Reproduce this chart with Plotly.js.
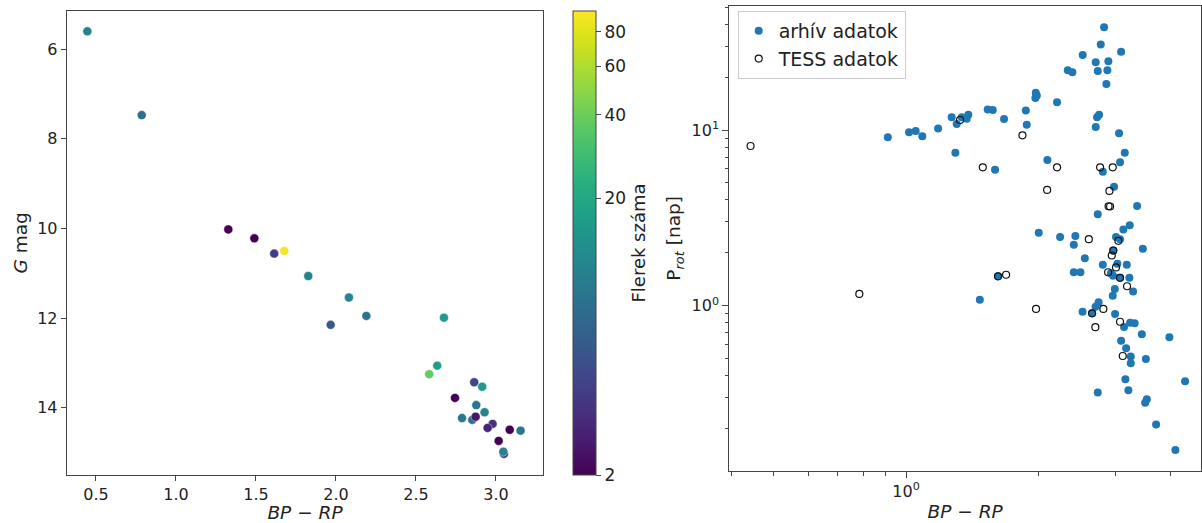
<!DOCTYPE html>
<html><head><meta charset="utf-8">
<script src="https://cdn.plot.ly/plotly-3.0.1.min.js"></script>
<style>html,body{margin:0;padding:0;background:#fff}#c{width:1202px;height:523px}</style>
</head><body><div id="c"></div>
<script>
// Left panel: colour-magnitude diagram
const bpRp = [0.446,0.786,1.327,1.49,1.614,1.677,1.827,2.081,1.967,2.19,2.675,2.633,2.583,2.864,2.914,2.744,2.877,2.929,2.788,2.852,2.873,2.979,2.948,3.086,3.154,3.017,3.05,3.046];
const gMag = [5.60,7.47,10.02,10.22,10.56,10.50,11.06,11.54,12.15,11.95,11.99,13.06,13.25,13.43,13.53,13.78,13.94,14.10,14.23,14.27,14.20,14.36,14.45,14.49,14.51,14.74,15.03,14.98];
const flareCount = [11,8,2,2,4,90,11,11.5,6,8.5,16,18,38,4.5,16,2,9,11,9,8.5,2.5,3.5,3,2,9,2,4,11];
const cbTicks = [2,20,40,60,80];
const leftXTicks = [0.5,1.0,1.5,2.0,2.5,3.0];
const leftYTicks = [6,8,10,12,14];

// Right panel: rotation period vs colour
const archBpRp = [0.909,1.016,1.052,1.089,1.183,1.270,1.304,1.339,1.386,1.374,1.295,1.534,1.575,1.671,1.594,1.873,1.882,1.973,1.984,1.969,2.206,2.097,2.333,2.390,2.523,2.822,2.773,3.085,2.701,2.886,2.730,2.871,2.856,2.749,2.720,2.701,3.052,3.145,3.068,2.803,2.973,3.355,2.730,3.122,3.228,3.004,3.068,3.457,2.004,2.241,2.428,2.408,2.551,2.803,3.178,3.025,2.408,2.493,2.923,2.958,3.068,3.222,1.619,1.472,2.985,2.953,3.285,2.742,2.699,2.650,2.521,2.989,3.234,3.311,3.133,3.439,3.973,3.085,3.167,3.245,3.512,3.245,3.155,4.313,3.205,2.730,3.530,3.499,3.706,4.100,2.958];
const archProt = [9.08,9.70,9.87,9.21,10.2,11.8,10.8,11.8,12.2,11.6,7.43,13.1,13.0,11.55,5.94,12.9,10.7,16.3,15.7,15.2,14.4,6.75,21.9,21.3,26.7,38.4,30.7,27.9,24.3,24.6,21.7,21.9,18.3,12.2,11.8,10.4,9.58,7.43,6.55,5.79,4.76,3.69,3.31,2.71,2.87,2.46,2.39,2.11,2.60,2.46,2.49,2.22,1.86,1.71,1.71,1.73,1.55,1.55,1.53,1.48,1.44,1.44,1.47,1.08,1.245,1.14,1.205,1.045,0.986,0.905,0.923,0.897,0.800,0.794,0.756,0.688,0.661,0.631,0.572,0.514,0.497,0.470,0.381,0.371,0.330,0.321,0.293,0.280,0.211,0.151,2.06];
const tessBpRp = [0.443,1.327,1.840,1.495,2.206,2.764,2.953,2.094,2.902,2.889,2.912,2.605,3.041,2.963,2.938,3.004,2.882,3.068,3.183,1.619,1.689,1.976,2.650,2.811,3.068,2.696,3.112,0.783];
const tessProt = [8.11,11.4,9.33,6.13,6.13,6.13,6.13,4.56,4.50,3.68,3.67,2.39,2.34,2.06,1.93,1.65,1.55,1.44,1.29,1.47,1.50,0.958,0.905,0.958,0.810,0.754,0.517,1.166];
const rightXMinor = [0.4,0.5,0.6,0.7,0.8,0.9,2,3,4];
const rightYMinor = [0.2,0.3,0.4,0.5,0.6,0.7,0.8,0.9,2,3,4,5,6,7,8,9,20,30,40,50];

const FONT = 'DejaVu Sans, sans-serif';
const LC = '#444';
const log10 = v => Math.log10(v);

const traces = [
  {
    type:'scatter', mode:'markers', x:bpRp, y:gMag, xaxis:'x', yaxis:'y', showlegend:false,
    marker:{size:9, color:flareCount.map(log10), colorscale:'Viridis', cmin:log10(2), cmax:log10(95),
      line:{color:'rgba(255,255,255,0.7)', width:0.6},
      colorbar:{x:573/1202, xanchor:'left', xpad:0, y:1-243/523, yanchor:'middle', len:464/523, lenmode:'fraction',
        thickness:23, thicknessmode:'pixels', outlinecolor:LC, outlinewidth:1, ypad:0,
        tickvals:cbTicks.map(log10), ticktext:cbTicks.map(String), ticks:'outside', ticklen:5, tickcolor:LC,
        tickfont:{family:FONT, size:17, color:'#222'},
        title:{text:'Flerek száma', side:'right', font:{family:FONT, size:18, color:'#222'}}}}
  },
  {
    type:'scatter', mode:'markers', x:archBpRp, y:archProt, xaxis:'x2', yaxis:'y2', name:'arhív adatok',
    marker:{size:8, color:'#1f77b4'}
  },
  {
    type:'scatter', mode:'markers', x:tessBpRp, y:tessProt, xaxis:'x2', yaxis:'y2', name:'TESS adatok',
    marker:{size:7, color:'rgba(0,0,0,0)', line:{color:'#111', width:1.2}}
  }
];

const axBase = {showline:true, linecolor:LC, linewidth:1, mirror:true, ticks:'outside', ticklen:5, tickcolor:LC,
  showgrid:false, zeroline:false, tickfont:{family:FONT, size:16, color:'#222'}};

const layout = {
  width:1202, height:523, paper_bgcolor:'#fff', plot_bgcolor:'#fff',
  margin:{l:0, r:0, t:0, b:0, autoexpand:false},
  font:{family:FONT, color:'#222'},
  xaxis:Object.assign({}, axBase, {domain:[66.7/1202, 543.3/1202], range:[0.317, 3.296],
    tickvals:leftXTicks, ticktext:leftXTicks.map(v=>v.toFixed(1)),
    title:{text:'<i>BP</i> − <i>RP</i>', font:{family:FONT, size:18.5}, standoff:6}}),
  yaxis:Object.assign({}, axBase, {domain:[1-475/523, 1-10.7/523], range:[15.50, 5.14],
    tickvals:leftYTicks, ticktext:leftYTicks.map(String),
    title:{text:'<i>G</i> mag', font:{family:FONT, size:18.5}, standoff:4}}),
  xaxis2:Object.assign({}, axBase, {type:'log', anchor:'y2', domain:[729.3/1202, 1201/1202], range:[-0.402, 0.671],
    tickvals:[1], ticktext:['10<sup>0</sup>'], ticklen:6,
    minor:{tickvals:rightXMinor, ticks:'outside', ticklen:3.5, tickcolor:LC, showgrid:false},
    title:{text:'<i>BP</i> − <i>RP</i>', font:{family:FONT, size:18.5}, standoff:4}}),
  yaxis2:Object.assign({}, axBase, {type:'log', anchor:'x2', domain:[1-471/523, 1-5.7/523], range:[-0.941, 1.7075],
    tickvals:[1,10], ticktext:['10<sup>0</sup>','10<sup>1</sup>'], ticklen:6,
    minor:{tickvals:rightYMinor, ticks:'outside', ticklen:3.5, tickcolor:LC, showgrid:false},
    title:{text:'P<sub><i>rot</i></sub> [nap]', font:{family:FONT, size:18.5}, standoff:6}}),
  legend:{x:737.7/1202, y:1-11/523, xanchor:'left', yanchor:'top', bgcolor:'rgba(255,255,255,0.8)',
    bordercolor:'#ccc', borderwidth:1, font:{family:FONT, size:19, color:'#222'}, itemwidth:30, tracegroupgap:0}
};

Plotly.newPlot('c', traces, layout, {staticPlot:true, displayModeBar:false});
</script>
</body></html>
